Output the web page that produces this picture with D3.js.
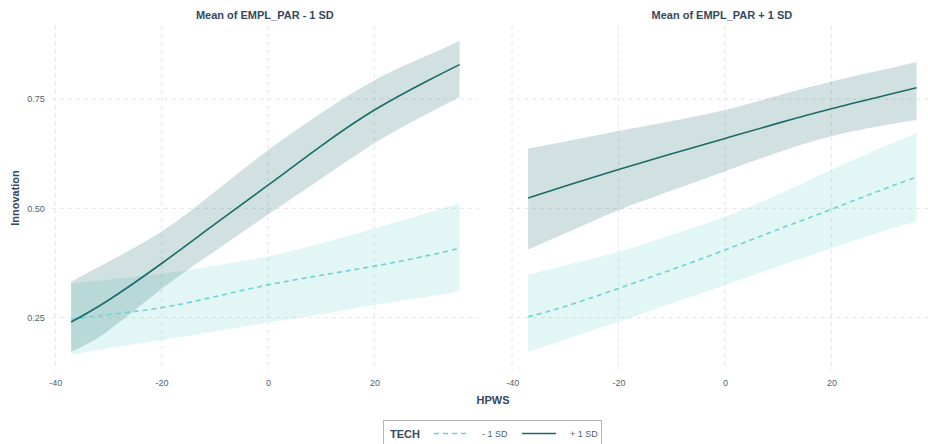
<!DOCTYPE html>
<html>
<head>
<meta charset="utf-8">
<script src="https://cdn.jsdelivr.net/npm/d3@7"></script>
<style>
  body { margin: 0; background: #fff; overflow: hidden; }
  text { font-family: "Liberation Sans", Arial, sans-serif; }
</style>
</head>
<body>
<div id="chart"></div>
<script>
// HPWS values where the predictions were read
var hpws = [-37, -30, -20, -10, 0, 10, 20, 30, 36];

// panel 1: Mean of EMPL_PAR - 1 SD
var lowMinusFit = [0.246, 0.257, 0.273, 0.298, 0.325, 0.347, 0.368, 0.392, 0.409];
var lowMinusLo  = [0.165, 0.18, 0.199, 0.219, 0.239, 0.258, 0.279, 0.298, 0.311];
var lowMinusHi  = [0.329, 0.337, 0.351, 0.369, 0.39, 0.42, 0.454, 0.49, 0.512];
var lowPlusFit  = [0.24, 0.29, 0.374, 0.464, 0.553, 0.643, 0.725, 0.792, 0.829];
var lowPlusLo   = [0.172, 0.22, 0.316, 0.402, 0.486, 0.568, 0.649, 0.717, 0.755];
var lowPlusHi   = [0.332, 0.378, 0.447, 0.538, 0.633, 0.718, 0.793, 0.85, 0.883];

// panel 2: Mean of EMPL_PAR + 1 SD
var highMinusFit = [0.252, 0.276, 0.317, 0.36, 0.405, 0.452, 0.498, 0.545, 0.572];
var highMinusLo  = [0.172, 0.2, 0.241, 0.283, 0.325, 0.367, 0.409, 0.449, 0.47];
var highMinusHi  = [0.348, 0.37, 0.401, 0.44, 0.481, 0.532, 0.588, 0.642, 0.672];
var highPlusFit  = [0.524, 0.551, 0.589, 0.625, 0.66, 0.695, 0.728, 0.758, 0.776];
var highPlusLo   = [0.406, 0.443, 0.496, 0.541, 0.585, 0.628, 0.665, 0.69, 0.702];
var highPlusHi   = [0.637, 0.653, 0.677, 0.7, 0.725, 0.758, 0.79, 0.818, 0.835];

var panelTitles = ["Mean of EMPL_PAR - 1 SD", "Mean of EMPL_PAR + 1 SD"];
var techLevels = ["- 1 SD", "+ 1 SD"];
var xTicks = [-40, -20, 0, 20];
var yTicks = [0.25, 0.50, 0.75];

var width = 928, height = 444;
var lineCol = { "- 1 SD": "#6fd3d3", "+ 1 SD": "#1b6a6a" };
var textCol = "#34495e";
var tickCol = "#4f5f70";

var svg = d3.select("#chart").append("svg")
    .attr("width", width)
    .attr("height", height);

// y scale shared by both panels
var y = d3.scaleLinear().domain([0.129, 0.919]).range([370.6, 25.2]);

var panels = [
  { title: panelTitles[0], left: 51.7, right: 479,
    series: [
      { tech: techLevels[0], fit: lowMinusFit, lo: lowMinusLo, hi: lowMinusHi },
      { tech: techLevels[1], fit: lowPlusFit, lo: lowPlusLo, hi: lowPlusHi }
    ] },
  { title: panelTitles[1], left: 508.7, right: 936,
    series: [
      { tech: techLevels[0], fit: highMinusFit, lo: highMinusLo, hi: highMinusHi },
      { tech: techLevels[1], fit: highPlusFit, lo: highPlusLo, hi: highPlusHi }
    ] }
];

panels.forEach(function (p) {
  var x = d3.scaleLinear().domain([-40.65, 39.65]).range([p.left, p.right]);
  var g = svg.append("g");

  // grid
  g.selectAll(".vg").data(xTicks).enter().append("line")
      .attr("x1", function (d) { return x(d); })
      .attr("x2", function (d) { return x(d); })
      .attr("y1", y.range()[1]).attr("y2", y.range()[0])
      .attr("stroke", "#e4e4e4").attr("stroke-dasharray", "4,4");
  g.selectAll(".hg").data(yTicks).enter().append("line")
      .attr("x1", p.left).attr("x2", p.right)
      .attr("y1", function (d) { return y(d); })
      .attr("y2", function (d) { return y(d); })
      .attr("stroke", "#e4e4e4").attr("stroke-dasharray", "4,4");

  var area = d3.area()
      .curve(d3.curveNatural)
      .x(function (d) { return x(d.x); })
      .y0(function (d) { return y(d.lo); })
      .y1(function (d) { return y(d.hi); });
  var line = d3.line()
      .curve(d3.curveNatural)
      .x(function (d) { return x(d.x); })
      .y(function (d) { return y(d.fit); });

  // ribbons first, then lines
  p.series.forEach(function (s) {
    var rows = hpws.map(function (h, i) {
      return { x: h, fit: s.fit[i], lo: s.lo[i], hi: s.hi[i] };
    });
    s.rows = rows;
    g.append("path").datum(rows)
        .attr("d", area)
        .attr("fill", lineCol[s.tech])
        .attr("fill-opacity", 0.2);
  });
  p.series.forEach(function (s) {
    g.append("path").datum(s.rows)
        .attr("d", line)
        .attr("fill", "none")
        .attr("stroke", lineCol[s.tech])
        .attr("stroke-width", 1.6)
        .attr("stroke-dasharray", s.tech == "- 1 SD" ? "5,4" : null);
  });

  // x axis labels (plain hyphen minus like the original)
  var xa = g.append("g").attr("transform", "translate(0,370)")
      .call(d3.axisBottom(x).tickValues(xTicks).tickFormat(function (d) { return String(d); })
        .tickSize(0).tickPadding(10));
  xa.select(".domain").remove();
  xa.selectAll("text").attr("fill", tickCol).attr("font-size", 9);

  // panel title
  g.append("text")
      .attr("x", (p.left + p.right) / 2 - 0.5).attr("y", 19)
      .attr("text-anchor", "middle")
      .attr("font-size", 11).attr("font-weight", "bold")
      .attr("fill", textCol)
      .text(p.title);
});

// y axis labels (left panel only)
var ya = svg.append("g").attr("transform", "translate(51.7,0)")
    .call(d3.axisLeft(y).tickValues(yTicks).tickFormat(d3.format(".2f")).tickSize(0).tickPadding(7));
ya.select(".domain").remove();
ya.selectAll("text").attr("fill", tickCol).attr("font-size", 9);

svg.append("text")
    .attr("transform", "translate(19,198) rotate(-90)")
    .attr("text-anchor", "middle")
    .attr("font-size", 11).attr("font-weight", "bold")
    .attr("fill", textCol)
    .text("Innovation");

svg.append("text")
    .attr("x", 493).attr("y", 404)
    .attr("text-anchor", "middle")
    .attr("font-size", 11).attr("font-weight", "bold")
    .attr("fill", textCol)
    .text("HPWS");

// legend
var lg = svg.append("g");
lg.append("rect")
    .attr("x", 383.5).attr("y", 420.5)
    .attr("width", 218).attr("height", 40)
    .attr("fill", "#fff").attr("stroke", "#b5b5b5");
lg.append("text")
    .attr("x", 390).attr("y", 438)
    .attr("font-size", 11).attr("font-weight", "bold")
    .attr("fill", textCol)
    .text("TECH");
var legX = [434, 522];
techLevels.forEach(function (t, i) {
  lg.append("line")
      .attr("x1", legX[i]).attr("x2", legX[i] + 34)
      .attr("y1", 433.5).attr("y2", 433.5)
      .attr("stroke", lineCol[t]).attr("stroke-width", 1.6)
      .attr("stroke-dasharray", t == "- 1 SD" ? "5,4" : null);
  lg.append("text")
      .attr("x", legX[i] + 48).attr("y", 437)
      .attr("font-size", 9)
      .attr("fill", tickCol)
      .text(t);
});
</script>
</body>
</html>
